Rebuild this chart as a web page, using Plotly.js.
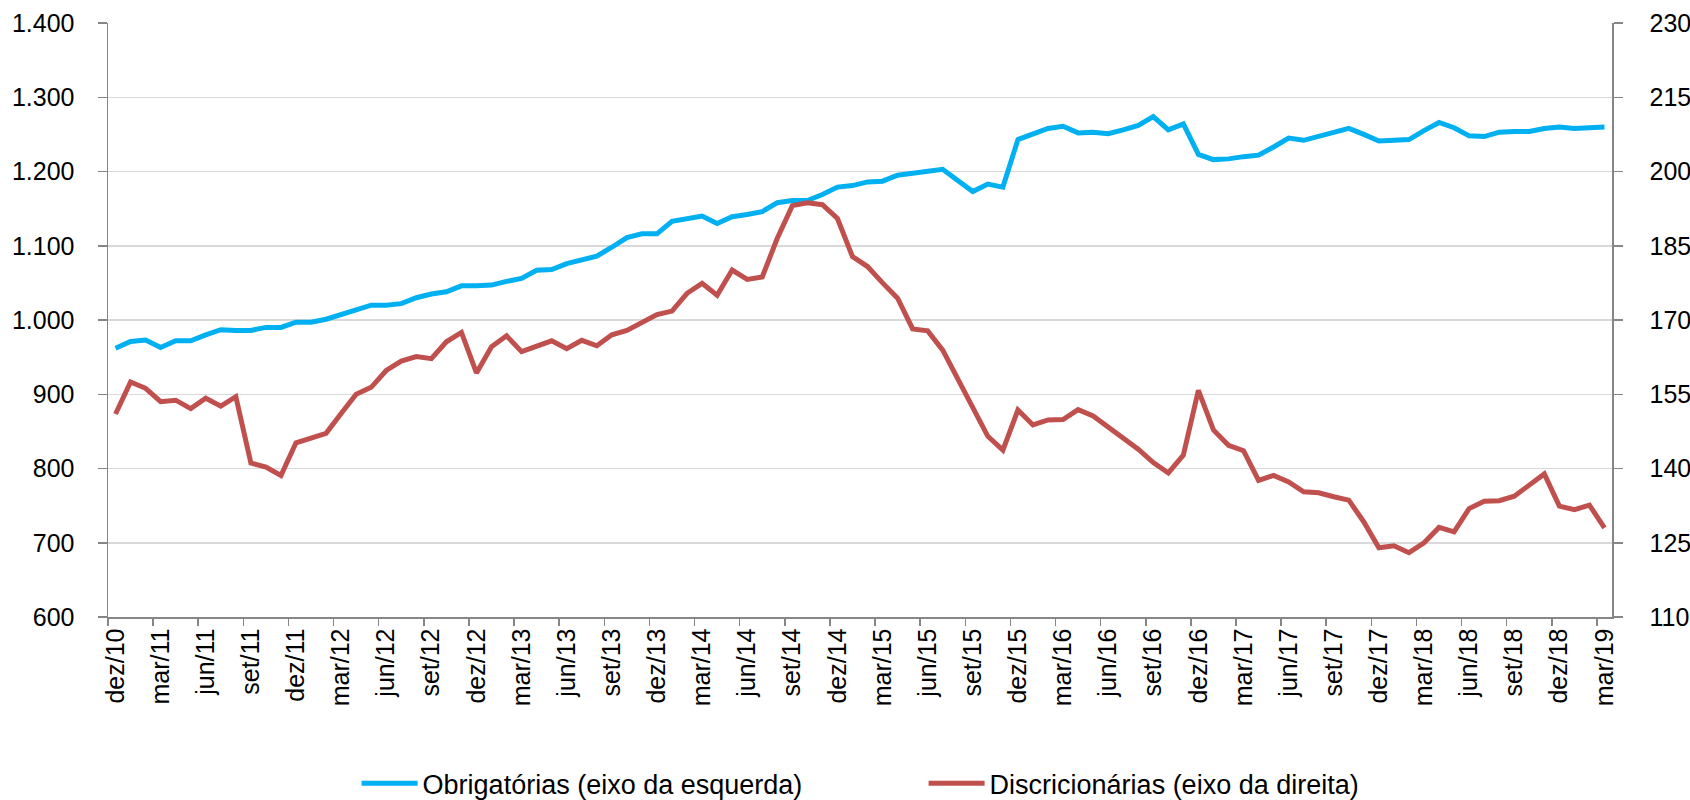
<!DOCTYPE html>
<html>
<head>
<meta charset="utf-8">
<script src="https://cdn.plot.ly/plotly-3.0.1.min.js"></script>
<style>
  html, body { margin: 0; padding: 0; background: #ffffff; }
  #chart { width: 1690px; height: 800px; }
</style>
</head>
<body>
<div id="chart"></div>
<script>
// Months shown: dez/10 ... mar/19 (100 monthly points)
const monthNames = ['jan','fev','mar','abr','mai','jun','jul','ago','set','out','nov','dez'];
const startMonth = 11;   // dez
const startYear = 10;    // 2010
const nPoints = 100;

// Obrigatórias (left axis)
const obrigatorias = [
  962, 971, 973, 963, 972, 972, 980, 987, 986, 986,
  990, 990, 997, 997, 1001, 1007, 1014, 1020, 1020, 1022,
  1030, 1035, 1038, 1046, 1046, 1047, 1052, 1056, 1067, 1068,
  1076, 1081, 1086, 1098, 1111, 1116, 1116, 1133, 1137, 1140,
  1130, 1139, 1142, 1146, 1158, 1161, 1161, 1169, 1179, 1181,
  1186, 1187, 1195, 1198, 1200, 1203, 1188, 1173, 1183, 1179,
  1243, 1250, 1258, 1261, 1252, 1253, 1251, 1256, 1262, 1274,
  1256, 1264, 1223, 1216, 1217, 1220, 1222, 1233, 1245, 1242,
  1247, 1252, 1258, 1250, 1241, 1242, 1243, 1255, 1266, 1259,
  1248, 1247, 1253, 1254, 1254, 1258, 1260, 1258, 1259, 1260
];

// Discricionárias (right axis)
const discricionarias = [
  151.0, 157.5, 156.2, 153.5, 153.8, 152.1, 154.2, 152.6, 154.5, 141.1,
  140.3, 138.6, 145.2, 146.1, 147.1, 151.1, 155.0, 156.4, 159.8, 161.7,
  162.6, 162.2, 165.6, 167.5, 159.3, 164.6, 166.8, 163.6, 164.7, 165.8,
  164.2, 165.9, 164.8, 167.0, 167.9, 169.5, 171.1, 171.8, 175.4, 177.4,
  175.0, 180.1, 178.2, 178.7, 186.5, 193.1, 193.7, 193.3, 190.5, 182.8,
  180.8, 177.5, 174.4, 168.2, 167.8, 163.9, 158.2, 152.5, 146.5, 143.7,
  151.8, 148.8, 149.8, 149.9, 151.9, 150.6, 148.4, 146.4, 143.9, 141.2,
  139.1, 142.7, 155.8, 147.8, 144.7, 143.6, 137.6, 138.6, 137.3, 135.3,
  135.1, 134.3, 133.6, 129.2, 124.0, 124.4, 123.0, 125.0, 128.1, 127.2,
  131.9, 133.4, 133.5, 134.4, 136.6, 138.9, 132.4, 131.7, 132.6, 128.0
];

const seriesNames = ['Obrigatórias (eixo da esquerda)', 'Discricionárias (eixo da direita)'];

const months = [];
for (let i = 0; i < nPoints; i++) {
  const m = (startMonth + i) % 12;
  const y = startYear + Math.floor((startMonth + i) / 12);
  months.push(monthNames[m] + '/' + String(y).padStart(2, '0'));
}

const FONT = 'Liberation Sans, Arial, sans-serif';

const traces = [
  {
    x: months, y: obrigatorias, name: seriesNames[0], type: 'scatter', mode: 'lines',
    line: { color: '#00B0F0', width: 5 }, yaxis: 'y'
  },
  {
    x: months, y: discricionarias, name: seriesNames[1], type: 'scatter', mode: 'lines',
    line: { color: '#C0504D', width: 5 }, yaxis: 'y2'
  }
];

const layout = {
  width: 1690, height: 800,
  paper_bgcolor: '#ffffff', plot_bgcolor: '#ffffff',
  margin: { l: 108, r: 78, t: 23, b: 183, autoexpand: false },
  separators: ',.',
  font: { family: FONT, size: 25, color: '#000000' },
  showlegend: true,
  legend: {
    orientation: 'h', xref: 'container', yref: 'container',
    x: 0.211, y: 0.051, xanchor: 'left', yanchor: 'top',
    font: { family: FONT, size: 27, color: '#000000' },
    itemwidth: 56, entrywidth: 496, traceorder: 'normal', bgcolor: 'rgba(0,0,0,0)'
  },
  xaxis: {
    type: 'category', categoryorder: 'array', categoryarray: months,
    range: [-0.5, nPoints - 0.5],
    dtick: 3, tick0: 0, tickson: 'boundaries', tickangle: -90,
    ticks: 'outside', ticklen: 7, tickwidth: 1.5, tickcolor: '#868686',
    showline: true, linecolor: '#868686', linewidth: 1.5,
    showgrid: false, zeroline: false,
    tickfont: { family: FONT, size: 25, color: '#000000' },
    fixedrange: true
  },
  yaxis: {
    range: [600, 1400], dtick: 100, tick0: 600, tickformat: ',d',
    ticks: 'outside', ticklen: 9, tickwidth: 1.5, tickcolor: '#868686',
    ticklabelstandoff: 18,
    showline: true, linecolor: '#868686', linewidth: 1.5,
    showgrid: true, gridcolor: '#D9D9D9', gridwidth: 1.5, zeroline: false,
    tickfont: { family: FONT, size: 25, color: '#000000' },
    fixedrange: true
  },
  yaxis2: {
    overlaying: 'y', side: 'right',
    range: [110, 230], dtick: 15, tick0: 110,
    ticks: 'outside', ticklen: 9, tickwidth: 1.5, tickcolor: '#868686',
    ticklabelstandoff: 22,
    showline: true, linecolor: '#868686', linewidth: 1.5,
    showgrid: false, zeroline: false,
    tickfont: { family: FONT, size: 25, color: '#000000' },
    fixedrange: true
  }
};

Plotly.newPlot('chart', traces, layout, { displayModeBar: false, staticPlot: true });
</script>
</body>
</html>
